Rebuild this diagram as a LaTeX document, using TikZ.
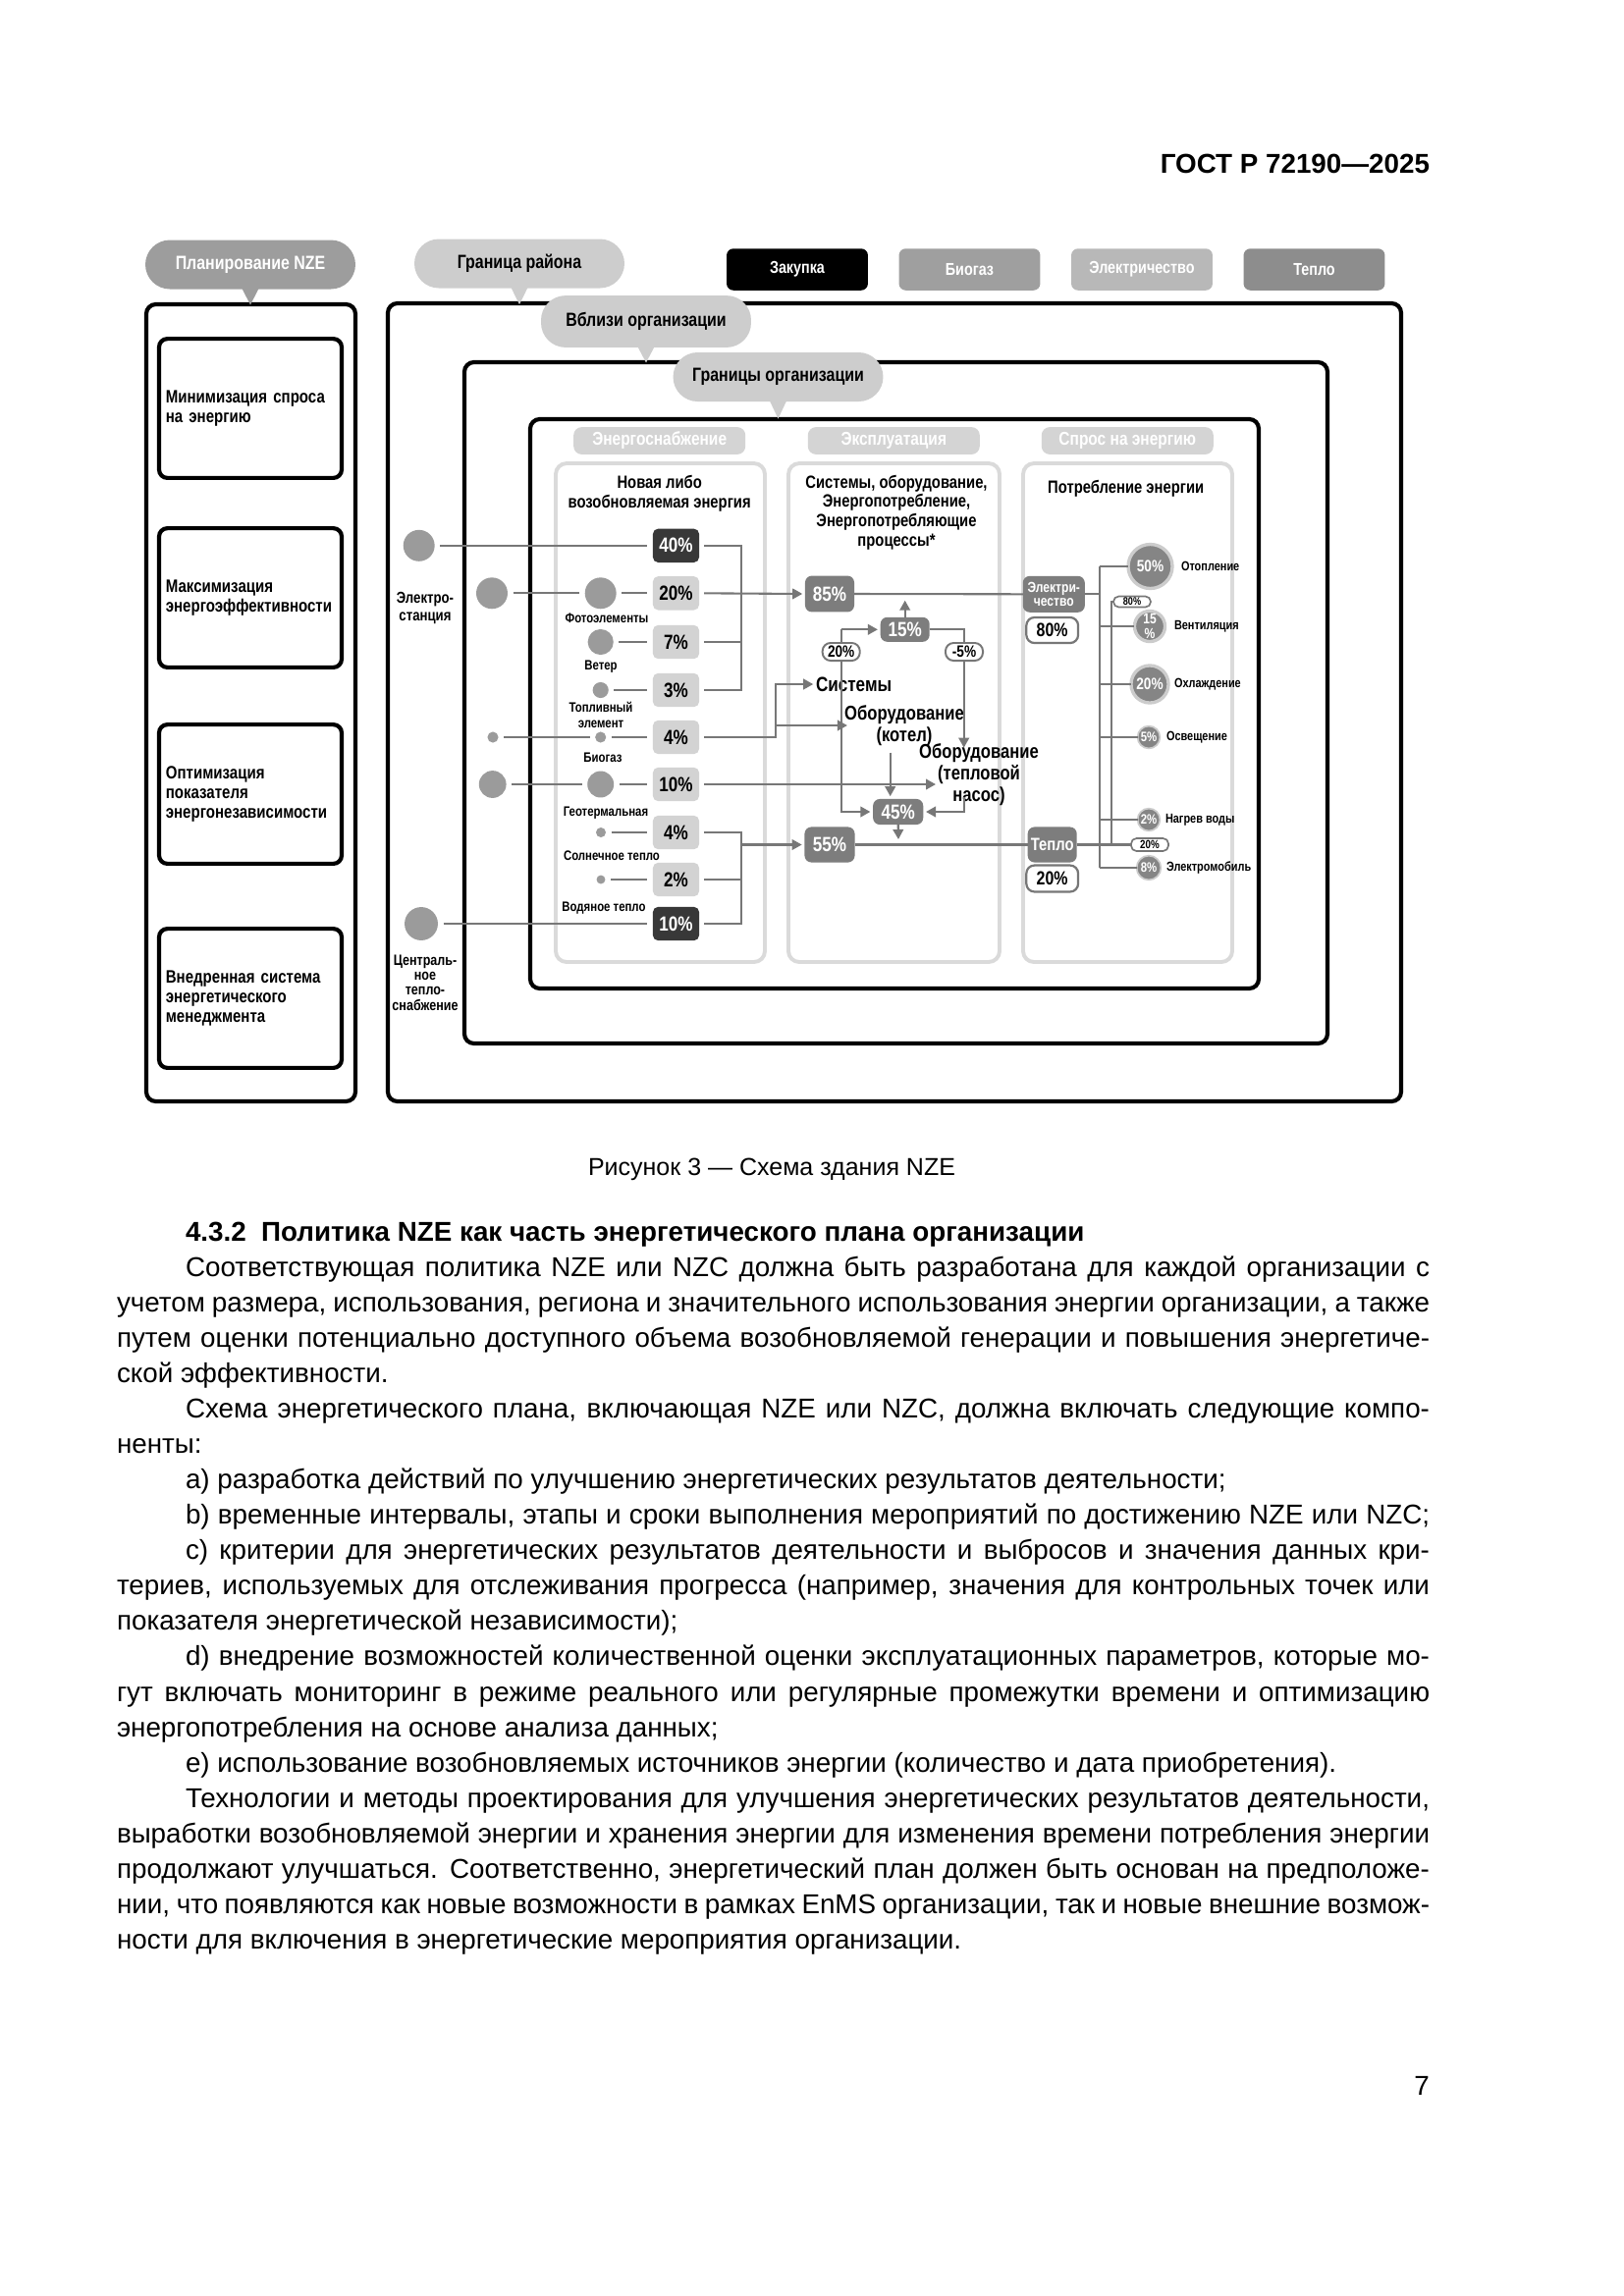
\documentclass[tikz,border=0pt]{standalone}
\usepackage{fontspec}
\setmainfont{Liberation Sans}
\newfontfamily\figf{Liberation Sans}[FakeStretch=0.82]
\usetikzlibrary{arrows.meta}
\newcommand{\setfs}[2]{\fontsize{#1}{#2}\selectfont}
\definecolor{lnc}{HTML}{777777}
\definecolor{cdk}{HTML}{9D9D9D}
\definecolor{clt}{HTML}{CDCDCD}
\definecolor{pnl}{HTML}{DADADA}
\definecolor{shd}{HTML}{D4D4D4}
\definecolor{pbl}{HTML}{D3D3D3}
\definecolor{pdk}{HTML}{383838}
\definecolor{obx}{HTML}{7D7D7D}
\definecolor{cfl}{HTML}{9B9B9B}
\definecolor{rcf}{HTML}{858585}
\definecolor{rring}{HTML}{CCCCCC}
\definecolor{lgA}{HTML}{9F9F9F}
\definecolor{lgB}{HTML}{B8B8B8}
\definecolor{lgC}{HTML}{8D8D8D}
\tikzset{
  every node/.style={inner sep=0pt, outer sep=0pt},
  conn/.style={draw=lnc, line width=0.75pt},
  arr/.style={conn, -{Triangle[length=3.6pt,width=3.8pt]}},
  frame/.style={draw=black, line width=1.5pt, rounded corners=3.5pt},
  panel/.style={draw=pnl, line width=1.4pt, rounded corners=4pt, fill=white},
  lbox/.style={draw=black, line width=1.5pt, rounded corners=3pt, fill=white,
    minimum width=66.9pt, minimum height=51pt, text width=62pt, inner xsep=2.45pt,
    align=left, font=\figf\bfseries\setfs{6.6}{7.2}},
  callout/.style={rounded corners=9pt, minimum width=77pt, minimum height=18pt,
    font=\figf\bfseries\setfs{7}{8}},
  cdark/.style={callout, fill=cdk, text=white},
  clight/.style={callout, fill=clt, text=black},
  legend/.style={rounded corners=2.5pt, minimum width=51.8pt, minimum height=15.3pt,
    text=white, font=\figf\bfseries\setfs{6.3}{7}},
  sechead/.style={rounded corners=3pt, fill=shd, minimum width=63pt, minimum height=10pt,
    text=white, font=\figf\bfseries\setfs{6.8}{7}},
  ptitle/.style={align=center, font=\figf\bfseries\setfs{6.5}{7.1}},
  pbox/.style={rounded corners=2pt, fill=pbl, minimum width=17pt, minimum height=12.4pt,
    font=\figf\bfseries\setfs{7.5}{8}},
  pdark/.style={pbox, fill=pdk, text=white},
  obox/.style={rounded corners=2.5pt, fill=obx, text=white, font=\figf\bfseries\setfs{7.5}{8}},
  circ/.style={circle, fill=cfl},
  rcirc/.style={circle, fill=rcf, draw=rring, line width=1.2pt},
  scirc/.style={circle, fill=rcf, draw=rring, line width=0.6pt},
  ctext/.style={text=white, align=center, font=\figf\bfseries\setfs{6}{5.5}},
  lab/.style={align=center, font=\figf\bfseries\setfs{5}{5.8}},
  rlab/.style={anchor=west, font=\figf\bfseries\setfs{4.8}{5}},
  pill/.style={draw=lnc, line width=0.7pt, fill=white, rounded corners=3pt,
    font=\figf\bfseries\setfs{6}{6}},
  flow/.style={align=center, font=\figf\bfseries\setfs{7.3}{6.6}},
  body/.style={anchor=base west, font=\setfs{10}{12}}
}
\begin{document}
\begin{tikzpicture}[x=0.3599pt,y=-0.3599pt]
\fill[white] (0,0) rectangle (1654,2339);
\useasboundingbox (0,0) rectangle (1654,2339);

% header
\node[anchor=base east, font=\bfseries\setfs{10}{12}] (hdr) at (1456,176) {ГОСТ Р 72190—2025};

% frames
\draw[frame] (149,310) rectangle (362,1122);
\draw[frame] (395,309) rectangle (1427,1122);
\draw[frame] (473,369) rectangle (1352,1063);
\draw[frame] (540,427) rectangle (1282,1007);

% left column boxes
\node[lbox] (m1) at (255,416) {Минимизация спроса\\на энергию};
\node[lbox] (m2) at (255,609) {Максимизация\\энергоэффективности};
\node[lbox] (m3) at (255,809) {Оптимизация\\показателя\\энергонезависимости};
\node[lbox] (m4) at (255,1017) {Внедренная система\\энергетического\\менеджмента};

% callouts
\node[cdark] (cplan) at (255,269.5) {Планирование NZE};
\fill[cdk] ([xshift=-3.2pt,yshift=0.5pt]cplan.south) -- ([xshift=3.2pt,yshift=0.5pt]cplan.south) -- ([yshift=-5.8pt]cplan.south) -- cycle;
\node[clight] (crayon) at (529,268.5) {Граница района};
\fill[clt] ([xshift=-3.2pt,yshift=0.5pt]crayon.south) -- ([xshift=3.2pt,yshift=0.5pt]crayon.south) -- ([yshift=-6pt]crayon.south) -- cycle;
\node[clight, minimum height=19pt] (cnear) at (658,327.5) {Вблизи организации};
\fill[clt] ([xshift=-3.2pt,yshift=0.5pt]cnear.south) -- ([xshift=3.2pt,yshift=0.5pt]cnear.south) -- ([yshift=-5.6pt]cnear.south) -- cycle;
\node[clight] (corg) at (792.5,384) {Границы организации};
\fill[clt] ([xshift=-3.2pt,yshift=0.5pt]corg.south) -- ([xshift=3.2pt,yshift=0.5pt]corg.south) -- ([yshift=-6.3pt]corg.south) -- cycle;

% legend
\node[legend, fill=black] (lg1) at (812,274.5) {Закупка};
\node[legend, fill=lgA] (lg2) at (987.5,274.5) {Биогаз};
\node[legend, fill=lgB] (lg3) at (1163,274.5) {Электричество};
\node[legend, fill=lgC] (lg4) at (1338.5,274.5) {Тепло};

% section headers and panels
\node[sechead] (sh1) at (671.7,449) {Энергоснабжение};
\node[sechead] (sh2) at (910.3,449) {Эксплуатация};
\node[sechead] (sh3) at (1148.3,449) {Спрос на энергию};
\draw[panel] (566,472) rectangle (779,980);
\draw[panel] (803,472) rectangle (1018,980);
\draw[panel] (1042,472) rectangle (1255,980);
\node[ptitle] (pt1) at (671.7,502.5) {Новая либо\\возобновляемая энергия};
\node[ptitle] (pt2) at (913,522) {Системы, оборудование,\\Энергопотребление,\\Энергопотребляющие\\процессы*};
\node[ptitle] (pt3) at (1146.7,497.3) {Потребление энергии};

% percent boxes panel 1
\node[pdark] (b40) at (688.5,555.8) {40\%};
\node[pbox] (b20) at (688.5,604.3) {20\%};
\node[pbox] (b7) at (688.5,654) {7\%};
\node[pbox] (b3) at (688.5,703) {3\%};
\node[pbox] (b4) at (688.5,751) {4\%};
\node[pbox] (b10) at (688.5,799) {10\%};
\node[pbox] (b4h) at (688.5,848) {4\%};
\node[pbox] (b2) at (688.5,896) {2\%};
\node[pdark] (b10d) at (688.5,941) {10\%};

% circles panel 1 and outside
\node[circ, minimum size=11.5pt] (c40o) at (426.7,555.8) {};
\node[circ, minimum size=11.5pt] (c20o) at (501,604.3) {};
\node[circ, minimum size=4pt] (cbioo) at (502,751) {};
\node[circ, minimum size=10pt] (c10o) at (501.7,799) {};
\node[circ, minimum size=12.2pt] (ccent) at (429,941) {};
\node[circ, minimum size=11.5pt] (cpv) at (611.7,604.3) {};
\node[circ, minimum size=9.4pt] (cwind) at (611.7,654) {};
\node[circ, minimum size=5.8pt] (cfuel) at (611.7,703) {};
\node[circ, minimum size=4pt] (cbio) at (611.7,751) {};
\node[circ, minimum size=9.7pt] (cgeo) at (611.7,799) {};
\node[circ, minimum size=3.6pt] (csol) at (612,848) {};
\node[circ, minimum size=3.2pt] (cwat) at (612,896) {};

% labels panel 1
\node[lab, font=\figf\bfseries\setfs{5.8}{6.5}] (lst) at (433,619) {Электро-\\станция};
\node[lab] (lpv) at (618,630) {Фотоэлементы};
\node[lab] (lwind) at (612,679) {Ветер};
\node[lab] (lfuel) at (612,728) {Топливный\\элемент};
\node[lab] (lbio) at (614,772) {Биогаз};
\node[lab] (lgeo) at (617,828) {Геотермальная};
\node[lab] (lsol) at (623,872) {Солнечное тепло};
\node[lab] (lwat) at (615,925) {Водяное тепло};
\node[lab, font=\figf\bfseries\setfs{5.5}{5.5}] (lcent) at (433,1001) {Централь-\\ное\\тепло-\\снабжение};

% source lines
\draw[conn, shorten <=2pt, shorten >=2pt] (c40o.east) -- (b40.west);
\draw[conn, shorten <=2pt, shorten >=2pt] (c20o.east) -- (cpv.west);
\draw[conn, shorten <=2pt, shorten >=2pt] (cpv.east) -- (b20.west);
\draw[conn, shorten <=2pt, shorten >=2pt] (cwind.east) -- (b7.west);
\draw[conn, shorten <=2pt, shorten >=2pt] (cfuel.east) -- (b3.west);
\draw[conn, shorten <=2pt, shorten >=2pt] (cbioo.east) -- (cbio.west);
\draw[conn, shorten <=2pt, shorten >=2pt] (cbio.east) -- (b4.west);
\draw[conn, shorten <=2pt, shorten >=2pt] (c10o.east) -- (cgeo.west);
\draw[conn, shorten <=2pt, shorten >=2pt] (cgeo.east) -- (b10.west);
\draw[conn, shorten <=2pt, shorten >=2pt] (csol.east) -- (b4h.west);
\draw[conn, shorten <=2pt, shorten >=2pt] (cwat.east) -- (b2.west);
\draw[conn, shorten <=2pt, shorten >=2pt] (ccent.east) -- (b10d.west);

% panel 2 boxes
\node[obox, minimum width=18pt, minimum height=13.3pt] (b85) at (845,605) {85\%};
\node[obox, minimum width=18pt, minimum height=9pt] (b15) at (921.7,641.3) {15\%};
\node[obox, minimum width=18.4pt, minimum height=9.4pt] (b45) at (914.7,827) {45\%};
\node[obox, minimum width=18.4pt, minimum height=13pt] (b55) at (845,860.5) {55\%};
\node[obox, minimum width=22.7pt, minimum height=13.3pt, align=center, font=\figf\bfseries\setfs{5.3}{5.2}] (belec) at (1073.3,605.3) {Электри-\\чество};
\node[obox, minimum width=18pt, minimum height=13pt, font=\figf\bfseries\setfs{6.5}{7}] (bheat) at (1071.7,860.5) {Тепло};
\node[pill, minimum width=19pt, minimum height=9.4pt, line width=0.8pt, font=\figf\bfseries\setfs{7}{7}] (p80) at (1071.7,642) {80\%};
\node[pill, minimum width=19pt, minimum height=9.7pt, line width=0.8pt, font=\figf\bfseries\setfs{7}{7}] (p20b) at (1071.7,895) {20\%};

\node[anchor=west, font=\figf\bfseries\setfs{7.5}{8}] (sys) at (831,697) {Системы};
\node[flow] (kot) at (921,739) {Оборудование\\(котел)};
\node[flow, font=\figf\bfseries\setfs{7.3}{5.9}] (hp) at (997,789) {Оборудование\\(тепловой\\насос)};

% bracket 1
\coordinate (j1t) at (755,555.8);
\coordinate (j1b) at (755,703);
\draw[conn, shorten <=1.8pt, shorten >=1.8pt] (b40.east) -- (j1t) -- (j1b) -- (b3.east);
\draw[conn, shorten <=1.8pt] (b7.east) -- (b7.east -| j1t);
\draw[arr, shorten <=1.8pt, shorten >=1pt] (b20.east) -- (b85.west);

% biogas branch
\coordinate (j2) at (790,751);
\draw[arr, shorten <=1.8pt, shorten >=1pt] (b4.east) -- (j2) |- (sys.west);
\draw[arr, shorten >=-1pt] (j2 |- kot.west) -- (kot.west);

% 10% to heat pump
\coordinate (hpin) at (953,799);
\draw[arr, shorten <=1.8pt] (b10.east) -- (hpin);

% loops in panel 2
\coordinate (j3) at (856.7,641.3);
\draw[arr, shorten >=1pt] (j3) -- (b15.west);
\draw[arr, shorten >=1pt] (j3) |- (b45.west);
\coordinate (j4) at (981.7,641.3);
\coordinate (hptop) at (981.7,761.7);
\draw[arr] (b15.east) -- (j4) -- (hptop);
\coordinate (hpb) at (981.7,812);
\draw[arr, shorten >=1pt] (hpb) |- (b45.east);
\coordinate (kotb) at (906.7,766.7);
\draw[arr, shorten >=1pt] (kotb) -- (kotb |- b45.north);
\coordinate (j5) at (915,855);
\draw[arr] (b45.south) -- (j5);
\coordinate (j6) at (921.7,611.7);
\draw[arr] (b15.north) -- (j6);
\node[pill, minimum width=13.7pt, minimum height=6.5pt] (p20) at (856.7,664) {20\%};
\node[pill, minimum width=13.7pt, minimum height=6.5pt] (pm5) at (982,664) {-5\%};

\draw[conn] (b85.east) -- (belec.west);
\draw[conn] (b55.east) -- (bheat.west);

% heat bracket
\coordinate (j7t) at (755,848);
\coordinate (j7b) at (755,941);
\draw[conn, shorten <=1.8pt, shorten >=1.8pt] (b4h.east) -- (j7t) -- (j7b) -- (b10d.east);
\draw[conn, shorten <=1.8pt] (b2.east) -- (b2.east -| j7t);
\coordinate (j7m) at (755,860.5);
\draw[arr, shorten >=1pt] (j7m) -- (b55.west);

% right panel circles
\node[rcirc, minimum size=16.2pt] (ch50) at (1171.5,577) {};
\node[rcirc, minimum size=11.2pt] (cvent) at (1171,638) {};
\node[rcirc, minimum size=13.7pt] (ccool) at (1171,697) {};
\node[scirc, minimum size=8.2pt] (clight) at (1170,751) {};
\node[scirc, minimum size=8.2pt] (cwh) at (1170,835) {};
\node[scirc, minimum size=8.9pt] (cev) at (1170,884) {};
\node[rlab] (lh50) at (1203,577) {Отопление};
\node[rlab] (lvent) at (1196,638) {Вентиляция};
\node[rlab] (lcool) at (1196,697) {Охлаждение};
\node[rlab] (llight) at (1188,751) {Освещение};
\node[rlab] (lwh) at (1187,835) {Нагрев воды};
\node[rlab] (lev) at (1188,884) {Электромобиль};

% bus
\coordinate (bt) at (1120,577);
\coordinate (bb) at (1120,884);
\draw[conn] (belec.east) -- (belec.east -| bt);
\draw[conn] (bt) -- (bb);
\draw[conn] (bt) -- (ch50.west);
\draw[conn] (cvent.west -| bt) -- (cvent.west);
\draw[conn] (ccool.west -| bt) -- (ccool.west);
\draw[conn] (clight.west -| bt) -- (clight.west);
\draw[conn] (cwh.west -| bt) -- (cwh.west);
\draw[conn] (bb) -- (cev.west);

% heat split
\node[pill, minimum width=13.7pt, minimum height=4pt, rounded corners=2pt, line width=0.6pt, font=\figf\bfseries\setfs{4}{4}] (p80s) at (1153,613) {80\%};
\node[pill, minimum width=13.7pt, minimum height=4.7pt, rounded corners=2pt, line width=0.6pt, font=\figf\bfseries\setfs{4.3}{4.3}] (p20s) at (1171,860.5) {20\%};
\coordinate (hv) at (1132,860.5);
\draw[conn] (bheat.east) -- (p20s.west);
\draw[conn] (hv) -- (hv |- p80s.west) -- (p80s.west);

% circle texts
\node[ctext] (t50) at (ch50) {50\%};
\node[ctext, font=\figf\bfseries\setfs{5.3}{5.3}] (t15) at (cvent) {15\\\%};
\node[ctext] (t20) at (ccool) {20\%};
\node[ctext, font=\figf\bfseries\setfs{5}{5}] (t5) at (clight) {5\%};
\node[ctext, font=\figf\bfseries\setfs{5}{5}] (t2) at (cwh) {2\%};
\node[ctext, font=\figf\bfseries\setfs{5}{5}] (t8) at (cev) {8\%};

% caption and text
\node[anchor=base, font=\setfs{9}{11}] (cap) at (786,1197) {Рисунок 3 — Схема здания NZE};
\node[body, font=\bfseries\setfs{10}{12}] (head) at (189,1264.6) {4.3.2\hspace{0.55em}Политика NZE как часть энергетического плана организации};
\node[body] (t1) at (189,1300.6) {\makebox[456pt][s]{Соответствующая политика NZE или NZC должна быть разработана для каждой организации с}};
\node[body] (t2l) at (119,1336.6) {\makebox[481.2pt][s]{учетом размера, использования, региона и значительного использования энергии организации, а также}};
\node[body] (t3) at (119,1372.7) {\makebox[481.2pt][s]{путем оценки потенциально доступного объема возобновляемой генерации и повышения энергетиче-}};
\node[body] (t4) at (119,1408.7) {ской эффективности.};
\node[body] (t5l) at (189,1444.7) {\makebox[456pt][s]{Схема энергетического плана, включающая NZE или NZC, должна включать следующие компо-}};
\node[body] (t6) at (119,1480.8) {ненты:};
\node[body] (t7) at (189,1516.8) {a)\ разработка действий по улучшению энергетических результатов деятельности;};
\node[body] (t8l) at (189,1552.8) {\makebox[456pt][s]{b) временные интервалы, этапы и сроки выполнения мероприятий по достижению NZE или NZC;}};
\node[body] (t9) at (189,1588.8) {\makebox[456pt][s]{c) критерии для энергетических результатов деятельности и выбросов и значения данных кри-}};
\node[body] (t10) at (119,1624.9) {\makebox[481.2pt][s]{териев, используемых для отслеживания прогресса (например, значения для контрольных точек или}};
\node[body] (t11) at (119,1660.9) {показателя энергетической независимости);};
\node[body] (t12) at (189,1696.9) {\makebox[456pt][s]{d) внедрение возможностей количественной оценки эксплуатационных параметров, которые мо-}};
\node[body] (t13) at (119,1733.0) {\makebox[481.2pt][s]{гут включать мониторинг в режиме реального или регулярные промежутки времени и оптимизацию}};
\node[body] (t14) at (119,1769.0) {энергопотребления на основе анализа данных;};
\node[body] (t15l) at (189,1805.0) {e)\ использование возобновляемых источников энергии (количество и дата приобретения).};
\node[body] (t16) at (189,1841.1) {\makebox[456pt][s]{Технологии и методы проектирования для улучшения энергетических результатов деятельности,}};
\node[body] (t17) at (119,1877.1) {\makebox[481.2pt][s]{выработки возобновляемой энергии и хранения энергии для изменения времени потребления энергии}};
\node[body] (t18) at (119,1913.1) {\makebox[481.2pt][s]{продолжают улучшаться. Соответственно, энергетический план должен быть основан на предположе-}};
\node[body] (t19) at (119,1949.2) {\makebox[481.2pt][s]{нии, что появляются как новые возможности в рамках EnMS организации, так и новые внешние возмож-}};
\node[body] (t20) at (119,1985.2) {ности для включения в энергетические мероприятия организации.};
\node[anchor=base, font=\setfs{10}{12}] (pnum) at (1448,2134) {7};
\end{tikzpicture}
\end{document}
